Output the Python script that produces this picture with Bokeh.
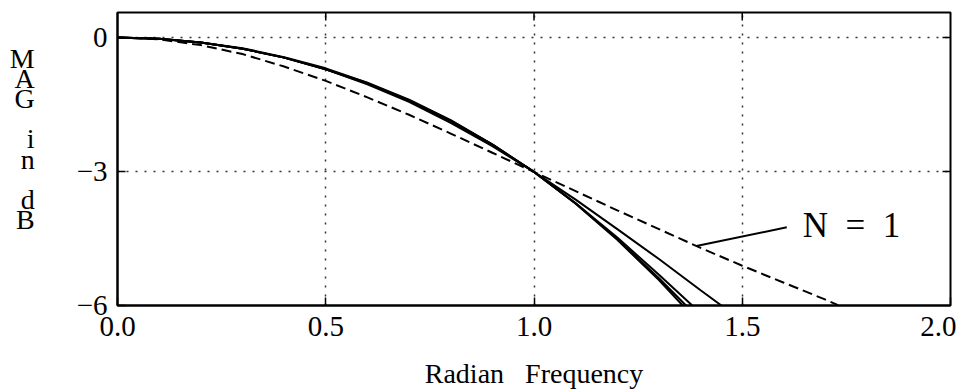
from bokeh.plotting import figure
from bokeh.models import Range1d, FixedTicker, NumeralTickFormatter
from bokeh.core.properties import value
from bokeh.embed import file_html
from bokeh.resources import INLINE
import numpy as np

SERIF = "Liberation Serif"
NB = "\u00a0"

# ---- data (normalized Bessel responses, dB) ----
freq_n1 = [0.0, 0.1, 0.2, 0.3, 0.4, 0.5, 0.6, 0.7, 0.8, 0.9, 1.0, 1.1, 1.2, 1.3, 1.4, 1.5, 1.6, 1.7, 1.73]
mag_n1 = [0.0, -0.04, -0.17, -0.37, -0.65, -0.97, -1.34, -1.73, -2.15, -2.58, -3.01, -3.44, -3.87, -4.29, -4.71, -5.11, -5.49, -5.87, -5.99]

freq_n2 = [0.0, 0.1, 0.2, 0.3, 0.4, 0.5, 0.6, 0.7, 0.8, 0.9, 1.0, 1.1, 1.2, 1.3, 1.4, 1.45]
mag_n2 = [0.0, -0.03, -0.11, -0.25, -0.45, -0.71, -1.05, -1.44, -1.91, -2.43, -3.01, -3.63, -4.29, -4.96, -5.66, -6.0]

freq_n3 = [0.0, 0.1, 0.2, 0.3, 0.4, 0.5, 0.6, 0.7, 0.8, 0.9, 1.0, 1.1, 1.2, 1.3, 1.38]
mag_n3 = [0.0, -0.03, -0.11, -0.24, -0.44, -0.69, -1.01, -1.39, -1.85, -2.39, -3.01, -3.71, -4.48, -5.31, -6.0]

freq_n4 = [0.0, 0.1, 0.2, 0.3, 0.4, 0.5, 0.6, 0.7, 0.8, 0.9, 1.0, 1.1, 1.2, 1.3, 1.365]
mag_n4 = [0.0, -0.03, -0.11, -0.25, -0.45, -0.71, -1.02, -1.41, -1.86, -2.40, -3.01, -3.71, -4.51, -5.39, -6.0]

freq_n5 = [0.0, 0.1, 0.2, 0.3, 0.4, 0.5, 0.6, 0.7, 0.8, 0.9, 1.0, 1.1, 1.2, 1.3, 1.357]
mag_n5 = [0.0, -0.03, -0.11, -0.25, -0.45, -0.71, -1.03, -1.41, -1.87, -2.40, -3.01, -3.72, -4.53, -5.43, -6.0]

x_ticks = [0.0, 0.5, 1.0, 1.5, 2.0]
y_ticks = [-6, -3, 0]
y_tick_labels = {0: "0", -3: "\u22123", -6: "\u22126"}
x_grid = [0.5, 1.0, 1.5]
y_grid = [-3, 0]

x_label = "Radian" + NB * 3 + "Frequency"
y_label = "M\nA\nG\n\ni\nn\n\nd\nB\n\n"
note_text = "N" + NB * 2 + "=" + NB * 2 + "1"
note_anchor_freq = 1.39
note_end = (1.607, -4.25)
note_text_pos = (1.645, -4.22)

X0, X1 = 0, 2
Y0, Y1 = -6, 0.56

p = figure(width=956, height=392,
           x_range=Range1d(X0, X1), y_range=Range1d(Y0, Y1),
           output_backend="svg", toolbar_location=None,
           min_border_left=117, min_border_right=6,
           min_border_top=12, min_border_bottom=87)

p.background_fill_color = "white"
p.border_fill_color = "white"
p.outline_line_color = "black"
p.outline_line_width = 2

for ax in (p.xaxis[0], p.yaxis[0]):
    ax.axis_line_color = "black"
    ax.axis_line_width = 2
    ax.major_tick_in = 8
    ax.major_tick_out = 0
    ax.major_tick_line_width = 1.5
    ax.minor_tick_in = 0
    ax.minor_tick_out = 0
    ax.major_label_text_font = SERIF
    ax.major_label_text_font_size = "29px"
    ax.major_label_text_color = "black"
    ax.axis_label_text_font = SERIF
    ax.axis_label_text_font_style = "normal"
    ax.axis_label_text_font_size = "28px"
    ax.axis_label_text_color = "black"

p.xaxis.ticker = FixedTicker(ticks=x_ticks)
p.xaxis.formatter = NumeralTickFormatter(format="0.0")
p.xaxis.major_label_standoff = 11
p.xaxis.axis_label = x_label
p.xaxis.axis_label_standoff = 19

p.yaxis.ticker = FixedTicker(ticks=y_ticks)
p.yaxis.major_label_overrides = y_tick_labels
p.yaxis.major_label_standoff = 10
p.yaxis.axis_label = y_label
p.yaxis.axis_label_orientation = "horizontal"
p.yaxis.axis_label_text_line_height = 0.65
p.yaxis.axis_label_standoff = 39

# inward tick marks on the top and right frame edges
p.ray(x=x_grid, y=[Y1] * len(x_grid), length=8, length_units="screen",
      angle=-np.pi / 2, line_color="black", line_width=1.5)
p.ray(x=[X1] * len(y_grid), y=y_grid, length=8, length_units="screen",
      angle=np.pi, line_color="black", line_width=1.5)

p.xgrid.ticker = FixedTicker(ticks=x_grid)
p.ygrid.ticker = FixedTicker(ticks=y_grid)
for g in (p.xgrid[0], p.ygrid[0]):
    g.grid_line_color = "black"
    g.grid_line_width = 1.5
    g.grid_line_dash = "2 7"
    g.grid_line_alpha = 0.8

for fx, my in ((freq_n2, mag_n2), (freq_n3, mag_n3), (freq_n4, mag_n4), (freq_n5, mag_n5)):
    p.line(fx, my, line_color="black", line_width=2)
p.line(freq_n1, mag_n1, line_color="black", line_width=2, line_dash="10 5")

ay = float(np.interp(note_anchor_freq, freq_n1, mag_n1))
p.line([note_anchor_freq, note_end[0]], [ay, note_end[1]], line_color="black", line_width=2)
p.text(x=[note_text_pos[0]], y=[note_text_pos[1]], text=[note_text],
       text_font=value(SERIF), text_font_size="35px", text_color="black",
       text_baseline="middle", text_align="left")

open("out.html", "w").write(file_html(p, INLINE))
